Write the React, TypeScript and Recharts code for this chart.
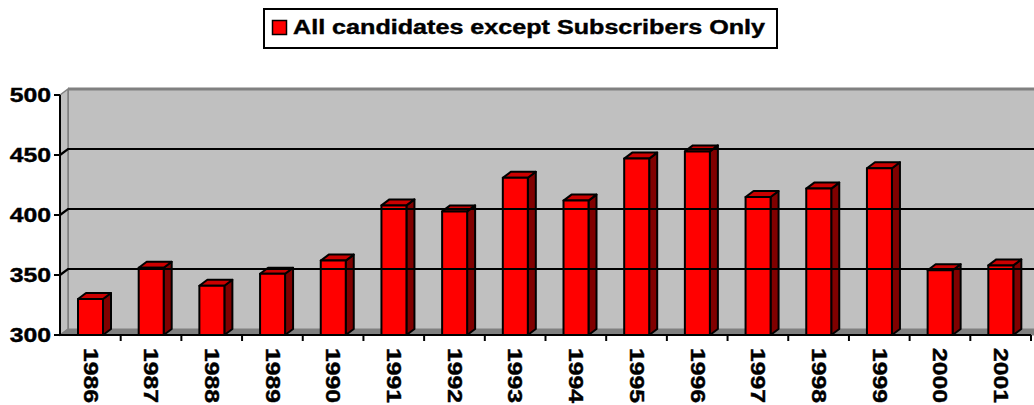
import React from "react";
import {
  BarChart,
  Bar,
  XAxis,
  YAxis,
  Legend,
  ReferenceArea,
  ReferenceLine,
} from "recharts";

const years = [
  "1986", "1987", "1988", "1989", "1990", "1991", "1992", "1993",
  "1994", "1995", "1996", "1997", "1998", "1999", "2000", "2001",
];
const candidates = [
  330, 356, 341, 351, 362, 408, 403, 431,
  412, 447, 453, 415, 422, 439, 354, 358,
];
const yTicks = [300, 350, 400, 450, 500];
const gridValues = [350, 400, 450];
const seriesName = "All candidates except Subscribers Only";

const data = years.map((year, i) => ({ year, value: candidates[i] }));

// depth of the fake 3D look
const DX = 8;
const DY = 6;
const FONT = "'Liberation Sans', Arial, sans-serif";

function Bar3D(props: any) {
  const { x, y, width, height } = props;
  if (height == null || height <= 0) return null;
  const top = `${x},${y} ${x + DX},${y - DY} ${x + width + DX},${y - DY} ${x + width},${y}`;
  const side = `${x + width},${y} ${x + width + DX},${y - DY} ${x + width + DX},${y + height - DY} ${x + width},${y + height}`;
  return (
    <g stroke="#000" strokeWidth={2} strokeLinejoin="round">
      <polygon points={side} fill="#800000" />
      <polygon points={top} fill="#CC0000" />
      <rect x={x} y={y} width={width} height={height} fill="#FF0000" />
    </g>
  );
}

function Walls(props: any) {
  const { x, y, width, height } = props;
  const bottom = y + height;
  return (
    <g>
      {/* back wall */}
      <rect x={x + DX} y={y - DY} width={width + 20} height={height} fill="#C0C0C0" />
      <line x1={x + DX} y1={y - DY} x2={x + width + 40} y2={y - DY} stroke="#808080" strokeWidth={3} />
      <line x1={x + DX} y1={y - DY} x2={x + DX} y2={bottom - DY} stroke="#808080" strokeWidth={2} />
      {/* side wall */}
      <polygon
        points={`${x},${y} ${x + DX},${y - DY} ${x + DX},${bottom - DY} ${x},${bottom}`}
        fill="#C0C0C0"
        stroke="#808080"
        strokeWidth={1.5}
      />
      {/* floor */}
      <polygon
        points={`${x},${bottom} ${x + DX},${bottom - DY} ${x + width + 40},${bottom - DY} ${x + width + 40},${bottom}`}
        fill="#808080"
        stroke="#808080"
        strokeWidth={1}
      />
    </g>
  );
}

function GridLine3D(props: any) {
  const { x1, y1, x2 } = props;
  return (
    <polyline
      points={`${x1},${y1} ${x1 + DX},${y1 - DY} ${x2 + 40},${y1 - DY}`}
      fill="none"
      stroke="#000"
      strokeWidth={2.2}
    />
  );
}

function YTick(props: any) {
  const { x, y, payload } = props;
  return (
    <text
      transform={`translate(${x},${y}) scale(1.24,1)`}
      textAnchor="end"
      dominantBaseline="central"
      fontFamily={FONT}
      fontWeight="bold"
      fontSize={20}
      fill="#000"
      stroke="#000"
      strokeWidth={0.4}
    >
      {payload.value}
    </text>
  );
}

function XTick(props: any) {
  const { x, y, payload } = props;
  const half = payload.offset || 971 / 16 / 2;
  const edge = x + half;
  return (
    <g>
      <line x1={edge} y1={y} x2={edge} y2={y + 6} stroke="#000" strokeWidth={2} />
      <text
        transform={`translate(${x},${y + 13}) rotate(90) scale(1.24,1)`}
        textAnchor="start"
        dominantBaseline="central"
        fontFamily={FONT}
        fontWeight="bold"
        fontSize={20}
        fill="#000"
        stroke="#000"
        strokeWidth={0.4}
      >
        {payload.value}
      </text>
    </g>
  );
}

function LegendBox(props: any) {
  const item = props.payload && props.payload[0];
  const label = item ? item.value : seriesName;
  return (
    <svg width={515} height={41} style={{ display: "block" }}>
      <rect x={1} y={1} width={513} height={39} fill="#fff" stroke="#000" strokeWidth={2} />
      <rect x={9.5} y={12.5} width={14} height={14} fill="#FF0000" stroke="#000" strokeWidth={1.5} />
      <text
        x={30}
        y={26}
        fontFamily={FONT}
        fontWeight="bold"
        fontSize={20}
        textLength={472}
        lengthAdjust="spacingAndGlyphs"
        fill="#000"
        stroke="#000"
        strokeWidth={0.4}
      >
        {label}
      </text>
    </svg>
  );
}

export default function App() {
  return (
    <div style={{ position: "absolute", left: 0, top: 0, background: "#fff" }}>
      <BarChart
        width={1034}
        height={405}
        data={data}
        margin={{ top: 95, right: 3, bottom: 0, left: 0 }}
        barCategoryGap={0}
      >
        <ReferenceArea y1={300} y2={500} shape={<Walls />} ifOverflow="visible" />
        {gridValues.map((v) => (
          <ReferenceLine key={v} y={v} shape={<GridLine3D />} ifOverflow="visible" />
        ))}
        <XAxis
          dataKey="year"
          height={70}
          interval={0}
          tickLine={false}
          tickSize={0}
          tickMargin={0}
          axisLine={{ stroke: "#000", strokeWidth: 2 }}
          tick={<XTick />}
        />
        <YAxis
          width={60}
          domain={[300, 500]}
          ticks={yTicks}
          interval={0}
          tickSize={6}
          tickMargin={3}
          axisLine={{ stroke: "#000", strokeWidth: 2 }}
          tickLine={{ stroke: "#000", strokeWidth: 2 }}
          tick={<YTick />}
        />
        <Legend
          verticalAlign="middle"
          align="center"
          wrapperStyle={{ top: 8, left: 263, width: 515, height: 41 }}
          content={<LegendBox />}
        />
        <Bar
          dataKey="value"
          name={seriesName}
          fill="#FF0000"
          barSize={25}
          shape={<Bar3D />}
          isAnimationActive={false}
        />
      </BarChart>
    </div>
  );
}
